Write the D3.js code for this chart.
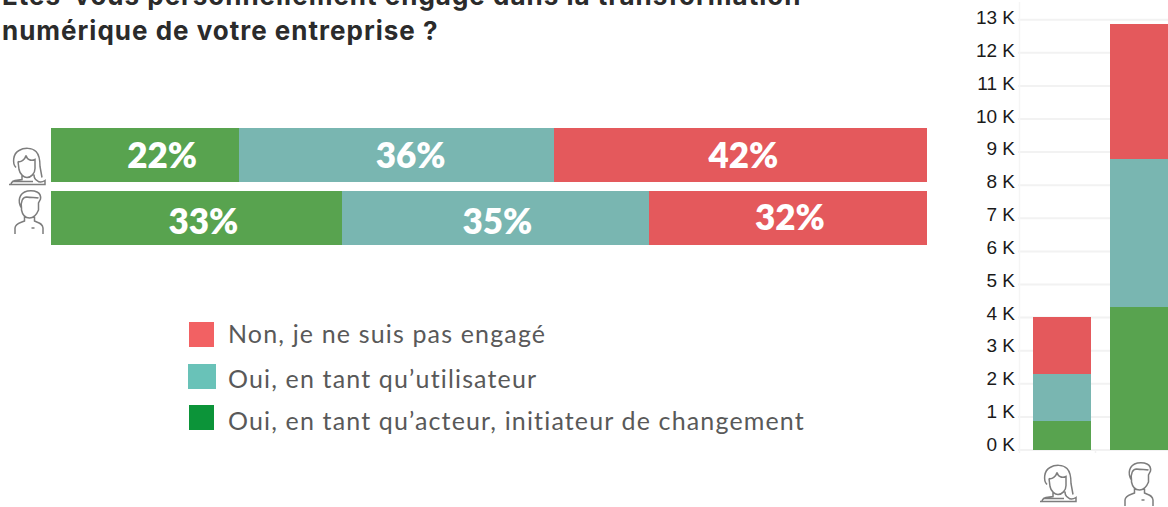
<!DOCTYPE html>
<html><head><meta charset="utf-8">
<script src="https://cdn.jsdelivr.net/npm/d3@7"></script>
<style>html,body{margin:0;padding:0;background:#fff;overflow:hidden}svg{display:block}</style>
</head><body><svg id="c" width="1168" height="507"></svg>
<script>
const genders = ["Femmes","Hommes"];
const responses = ["acteur","utilisateur","non"];
const sharesFemmes = [21.5,35.9,42.6];
const sharesHommes = [33.2,35.05,31.75];
const labelsFemmes = ["22%","36%","42%"];
const labelsHommes = ["33%","35%","32%"];
const countsFemmes = [0.88,1.42,1.72];
const countsHommes = [4.32,4.47,4.08];
const kTicks = [0,1,2,3,4,5,6,7,8,9,10,11,12,13];
const legendLabels = ["Non, je ne suis pas engagé","Oui, en tant qu’utilisateur","Oui, en tant qu’acteur, initiateur de changement"];
const titleLines = ["Êtes-vous personnellement engagé dans la transformation","numérique de votre entreprise ?"];

const barColors = {acteur:"#58a34f",utilisateur:"#79b6b1",non:"#e4595c"};
const legendColors = ["#f26163","#69c2b8","#0c9439"];
const svg = d3.select("#c");
const font = "Lato, 'Open Sans', sans-serif";

svg.selectAll("text.title").data(titleLines).join("text").attr("class","title")
  .attr("x",2).attr("y",(d,i)=>5+i*35).attr("font-family","Inter, sans-serif").attr("font-weight",700)
  .attr("font-size",26).attr("letter-spacing",1).attr("fill","#2b2b2b").text(d=>d);

function stack(vals){let s=0;return vals.map((v,i)=>{const o={key:responses[i],y0:s,y1:s+v};s+=v;return o;});}

// horizontal
const x = d3.scaleLinear().domain([0,100]).range([51,927]);
const yB = d3.scaleBand().domain(genders).range([128,245]).paddingInner(0.155).paddingOuter(0);
const labelDx = [[17,14,3],[7,2,2]];
[[sharesFemmes,labelsFemmes],[sharesHommes,labelsHommes]].forEach(([vals,labs],gi)=>{
  const g = svg.append("g");
  const st = stack(vals);
  g.selectAll("rect").data(st).join("rect")
    .attr("x",d=>x(d.y0)).attr("width",d=>x(d.y1)-x(d.y0))
    .attr("y",yB(genders[gi])).attr("height",yB.bandwidth())
    .attr("fill",d=>barColors[d.key]).attr("shape-rendering","crispEdges");
  g.selectAll("text").data(st).join("text")
    .attr("x",(d,i)=>(x(d.y0)+x(d.y1))/2+labelDx[gi][i])
    .attr("y",(d,i)=>yB(genders[gi])+ (gi===1&&i===2?39:(gi===1?43:40)))
    .attr("text-anchor","middle").attr("font-family",font).attr("font-weight",800)
    .attr("font-size",35).attr("fill","#fff").text((d,i)=>labs[i]);
});

// legend
const legendRect = [[189,322,25,25],[188,364,28,25],[189,405,25,25]];
legendLabels.forEach((t,i)=>{
  const r = legendRect[i];
  svg.append("rect").attr("x",r[0]).attr("y",r[1]).attr("width",r[2]).attr("height",r[3]).attr("fill",legendColors[i]);
  svg.append("text").attr("x",228).attr("y",[343,388,430][i]).attr("font-family",font)
    .attr("font-size",25).attr("letter-spacing",1.15).attr("fill","#595959").text(t);
});

// vertical
const yV = d3.scaleLinear().domain([0,13]).range([450,19.7]);
const yLabel = d3.scaleLinear().domain([0,13]).range([451,24]);
const grid = svg.append("g");
grid.selectAll("line").data(kTicks).join("line")
  .attr("x1",1018).attr("x2",1168).attr("y1",d=>yV(d)).attr("y2",d=>yV(d))
  .attr("stroke","#f2f2f2").attr("stroke-width",2);
grid.append("line").attr("x1",1019.5).attr("x2",1019.5).attr("y1",2).attr("y2",453).attr("stroke","#f5f5f5").attr("stroke-width",1.5);
grid.append("line").attr("x1",1095.5).attr("x2",1095.5).attr("y1",450).attr("y2",453).attr("stroke","#f2f2f2").attr("stroke-width",1.5);
svg.selectAll("text.k").data(kTicks).join("text").attr("class","k")
  .attr("x",1015).attr("y",d=>yLabel(d)).attr("text-anchor","end")
  .attr("font-family","'Liberation Sans', sans-serif").attr("font-size",19).attr("fill","#1a1a1a").text(d=>d+" K");
const barX = [1033,1110];
[countsFemmes,countsHommes].forEach((vals,gi)=>{
  svg.append("g").selectAll("rect").data(stack(vals)).join("rect")
    .attr("x",barX[gi]).attr("width",58)
    .attr("y",d=>yV(d.y1)).attr("height",d=>yV(d.y0)-yV(d.y1))
    .attr("fill",d=>barColors[d.key]).attr("shape-rendering","crispEdges");
});

// icons (decorative pictograms)
const womanIcon = "M7 20 C3 16 4 6 10 3 C15 0 23 0 27 4 C31 8 31 14 31 19 L33 30 M9 14 L10 22 C11 27 15 30 18 30 C22 30 26 26 26 21 L26 12 C22 14 18 12 17 8 C16 12 12 15 9 14 M13 28 L13 32 L6 33 C3 34 2 35 2 37 L0 37 L36 37 L36 33 C33 35 30 35 28 33 C26 32 25 30 25 27 M3 34 L24 34";
const manIcon = "M7 18 C3 12 4 3 13 1 C20 0 27 2 26 9 L24 13 L24 20 C22 25 19 28 15 28 C11 28 8 25 7 20 Z M7 18 C6 12 8 7 12 7 C17 8 21 7 24 8 M10 27 L10 31 C6 33 1 33 0.5 38 L0.5 44 M20 27 L20 31 C24 33 28 33 28.5 38 L28.5 44 M17 38 L20 38";
function icon(path,tx,ty){svg.append("path").attr("d",path).attr("transform",`translate(${tx},${ty})`)
  .attr("fill","none").attr("stroke","#7d7d7d").attr("stroke-width",1.5);}
icon(womanIcon,9,147.5);
icon(manIcon,14.5,190);
icon(womanIcon,1040,464.5);
icon(manIcon,1124.5,462);
</script></body></html>
